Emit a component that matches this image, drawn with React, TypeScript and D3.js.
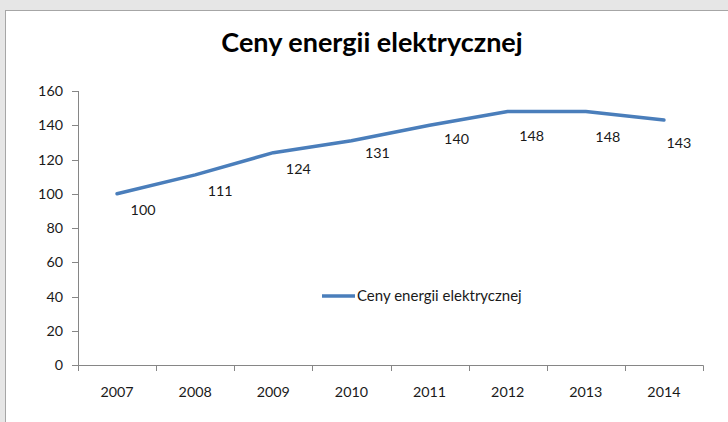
import React from "react";
import * as d3 from "d3";

const years = ["2007", "2008", "2009", "2010", "2011", "2012", "2013", "2014"];
const prices = [100, 111, 124, 131, 140, 148, 148, 143];
const yTicks = [0, 20, 40, 60, 80, 100, 120, 140, 160];
const seriesName = "Ceny energii elektrycznej";
const title = "Ceny energii elektrycznej";

// label placement tweaks (offsets from point, px)
const labelDx = [26, 25, 25, 26, 27, 24, 22, 15];
const labelDy = [16, 16, 16, 12, 14, 24, 25, 23];

const W = 728;
const H = 422;
const FONT = "Lato, 'Open Sans', sans-serif";
const TEXT = "#1a1a1a";
const AXIS = "#868686";
const LINE = "#4a7ebb";
const SMALL = 14.3;

export default function App() {
  const x = d3.scaleBand<string>().domain(years).range([78, 703]).padding(0);
  const y = d3.scaleLinear().domain([0, 160]).range([365, 91]);
  const cx = (d: string) => (x(d) as number) + x.bandwidth() / 2;
  const line = d3
    .line<number>()
    .x((_, i) => cx(years[i]))
    .y((v) => y(v));
  const tickXs = years.map((d) => x(d) as number).concat([703]);

  return (
    <svg
      width={W}
      height={H}
      style={{ position: "absolute", left: 0, top: 0, display: "block" }}
    >
      <rect x={0} y={0} width={W} height={H} fill="#e6e6e6" />
      <rect x={5.5} y={10.5} width={W + 10} height={H + 10} fill="#ffffff" stroke="#a6a6a6" />
      <text
        x={372}
        y={52}
        textAnchor="middle"
        fontFamily={FONT}
        fontWeight="bold"
        fontSize={27}
        fill="#000"
      >
        {title}
      </text>

      {/* y axis */}
      <line x1={78.5} x2={78.5} y1={y(160)} y2={y(0)} stroke={AXIS} />
      {yTicks.map((t) => (
        <g key={t}>
          <line x1={72} x2={78.5} y1={Math.round(y(t)) + 0.5} y2={Math.round(y(t)) + 0.5} stroke={AXIS} />
          <text
            x={63}
            y={y(t)}
            dy="0.35em"
            textAnchor="end"
            fontFamily={FONT}
            fontSize={SMALL}
            fill={TEXT}
          >
            {t}
          </text>
        </g>
      ))}

      {/* x axis */}
      <line x1={78} x2={703.5} y1={365.5} y2={365.5} stroke={AXIS} />
      {tickXs.map((tx, i) => (
        <line key={i} x1={Math.round(tx) + 0.5} x2={Math.round(tx) + 0.5} y1={365.5} y2={371} stroke={AXIS} />
      ))}
      {years.map((d) => (
        <text
          key={d}
          x={cx(d)}
          y={392}
          dy="0.35em"
          textAnchor="middle"
          fontFamily={FONT}
          fontSize={SMALL}
          fill={TEXT}
        >
          {d}
        </text>
      ))}

      {/* series */}
      <path
        d={line(prices) || ""}
        fill="none"
        stroke={LINE}
        strokeWidth={3.5}
        strokeLinejoin="round"
        strokeLinecap="round"
      />
      {prices.map((v, i) => (
        <text
          key={i}
          x={cx(years[i]) + labelDx[i]}
          y={y(v) + labelDy[i]}
          dy="0.35em"
          textAnchor="middle"
          fontFamily={FONT}
          fontSize={SMALL}
          fill={TEXT}
        >
          {v}
        </text>
      ))}

      {/* legend */}
      <line x1={322} x2={355} y1={296} y2={296} stroke={LINE} strokeWidth={3.5} />
      <text x={357} y={296} dy="0.35em" fontFamily={FONT} fontSize={15} fill={TEXT}>
        {seriesName}
      </text>
    </svg>
  );
}
